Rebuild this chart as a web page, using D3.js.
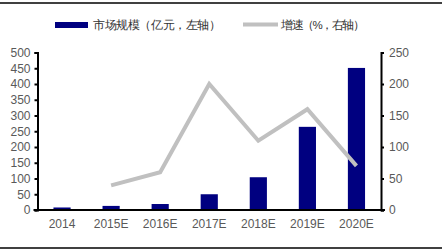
<!DOCTYPE html>
<html>
<head>
<meta charset="utf-8">
<script src="https://d3js.org/d3.v7.min.js"></script>
<style>
  * { margin: 0; padding: 0; }
  body { background: #fff; width: 442px; height: 251px; overflow: hidden; }
  text { font-family: 'Liberation Sans', Arial, sans-serif; }
</style>
</head>
<body>
<div id="chart"></div>
<script>
// chart data
const years = ['2014', '2015E', '2016E', '2017E', '2018E', '2019E', '2020E'];
const marketSize = [8, 13, 19, 50, 104, 264, 451];
const growth = [null, 39, 60, 200, 110, 160, 70];
const leftTicks = [0, 50, 100, 150, 200, 250, 300, 350, 400, 450, 500];
const rightTicks = [0, 50, 100, 150, 200, 250];
const legendLabels = ['市场规模（亿元，左轴）', '增速（%，右轴）'];

const width = 442, height = 251;
const margin = { top: 52.5, right: 61, bottom: 41, left: 37.5 };
const barColor = '#000080';
const lineColor = '#c0c0c0';
const labelColor = '#595959';

const svg = d3.select('#chart').append('svg')
  .attr('width', width).attr('height', height);

// frame lines top and bottom
svg.append('line').attr('x1', 0).attr('x2', width).attr('y1', 3).attr('y2', 3)
  .attr('stroke', '#000').attr('stroke-width', 1.5);
svg.append('line').attr('x1', 0).attr('x2', width).attr('y1', 248).attr('y2', 248)
  .attr('stroke', '#000').attr('stroke-width', 1.5);

const x = d3.scaleBand().domain(years)
  .range([margin.left, width - margin.right]).paddingInner(0.65).paddingOuter(0.325);
const yL = d3.scaleLinear().domain([0, 500]).range([height - margin.bottom, margin.top]);
const yR = d3.scaleLinear().domain([0, 250]).range([height - margin.bottom, margin.top]);

// bars
svg.append('g').selectAll('rect').data(marketSize).join('rect')
  .attr('x', (d, i) => x(years[i]))
  .attr('y', d => yL(d))
  .attr('width', x.bandwidth())
  .attr('height', d => yL(0) - yL(d))
  .attr('fill', barColor);

// growth line
const line = d3.line()
  .defined(d => d != null)
  .x((d, i) => x(years[i]) + x.bandwidth() / 2)
  .y(d => yR(d));
svg.append('path').datum(growth)
  .attr('d', line)
  .attr('fill', 'none')
  .attr('stroke', lineColor)
  .attr('stroke-width', 4);

// axes
function styleAxis(g) {
  g.select('.domain').attr('stroke', '#000').attr('stroke-width', 2);
  g.selectAll('.tick line').attr('stroke', '#000').attr('stroke-width', 2);
  g.selectAll('.tick text').attr('fill', labelColor).style('font-size', '12px');
}

svg.append('g')
  .attr('transform', `translate(${margin.left},0)`)
  .call(d3.axisLeft(yL).tickValues(leftTicks).tickSize(3).tickSizeOuter(3).tickPadding(4))
  .call(styleAxis);

svg.append('g')
  .attr('transform', `translate(${width - margin.right},0)`)
  .call(d3.axisRight(yR).tickValues(rightTicks).tickSize(3).tickSizeOuter(3).tickPadding(5))
  .call(styleAxis);

const xAxis = svg.append('g')
  .attr('transform', `translate(0,${height - margin.bottom})`)
  .call(d3.axisBottom(x).tickSize(0).tickPadding(9))
  .call(styleAxis);
xAxis.select('.domain').attr('d', `M${margin.left - 4},0H${width - margin.right + 4}`);

// legend
const legend = svg.append('g').style('font-size', '11.5px');
legend.append('rect').attr('x', 55).attr('y', 22).attr('width', 33).attr('height', 6)
  .attr('fill', barColor);
legend.append('text').attr('x', 93).attr('y', 29).attr('fill', '#333')
  .attr('textLength', 128).attr('lengthAdjust', 'spacing')
  .text(legendLabels[0]);
legend.append('line').attr('x1', 243).attr('x2', 278).attr('y1', 24.5).attr('y2', 24.5)
  .attr('stroke', lineColor).attr('stroke-width', 4);
legend.append('text').attr('x', 281).attr('y', 29).attr('fill', '#333')
  .attr('textLength', 84).attr('lengthAdjust', 'spacing')
  .text(legendLabels[1]);
</script>
</body>
</html>
